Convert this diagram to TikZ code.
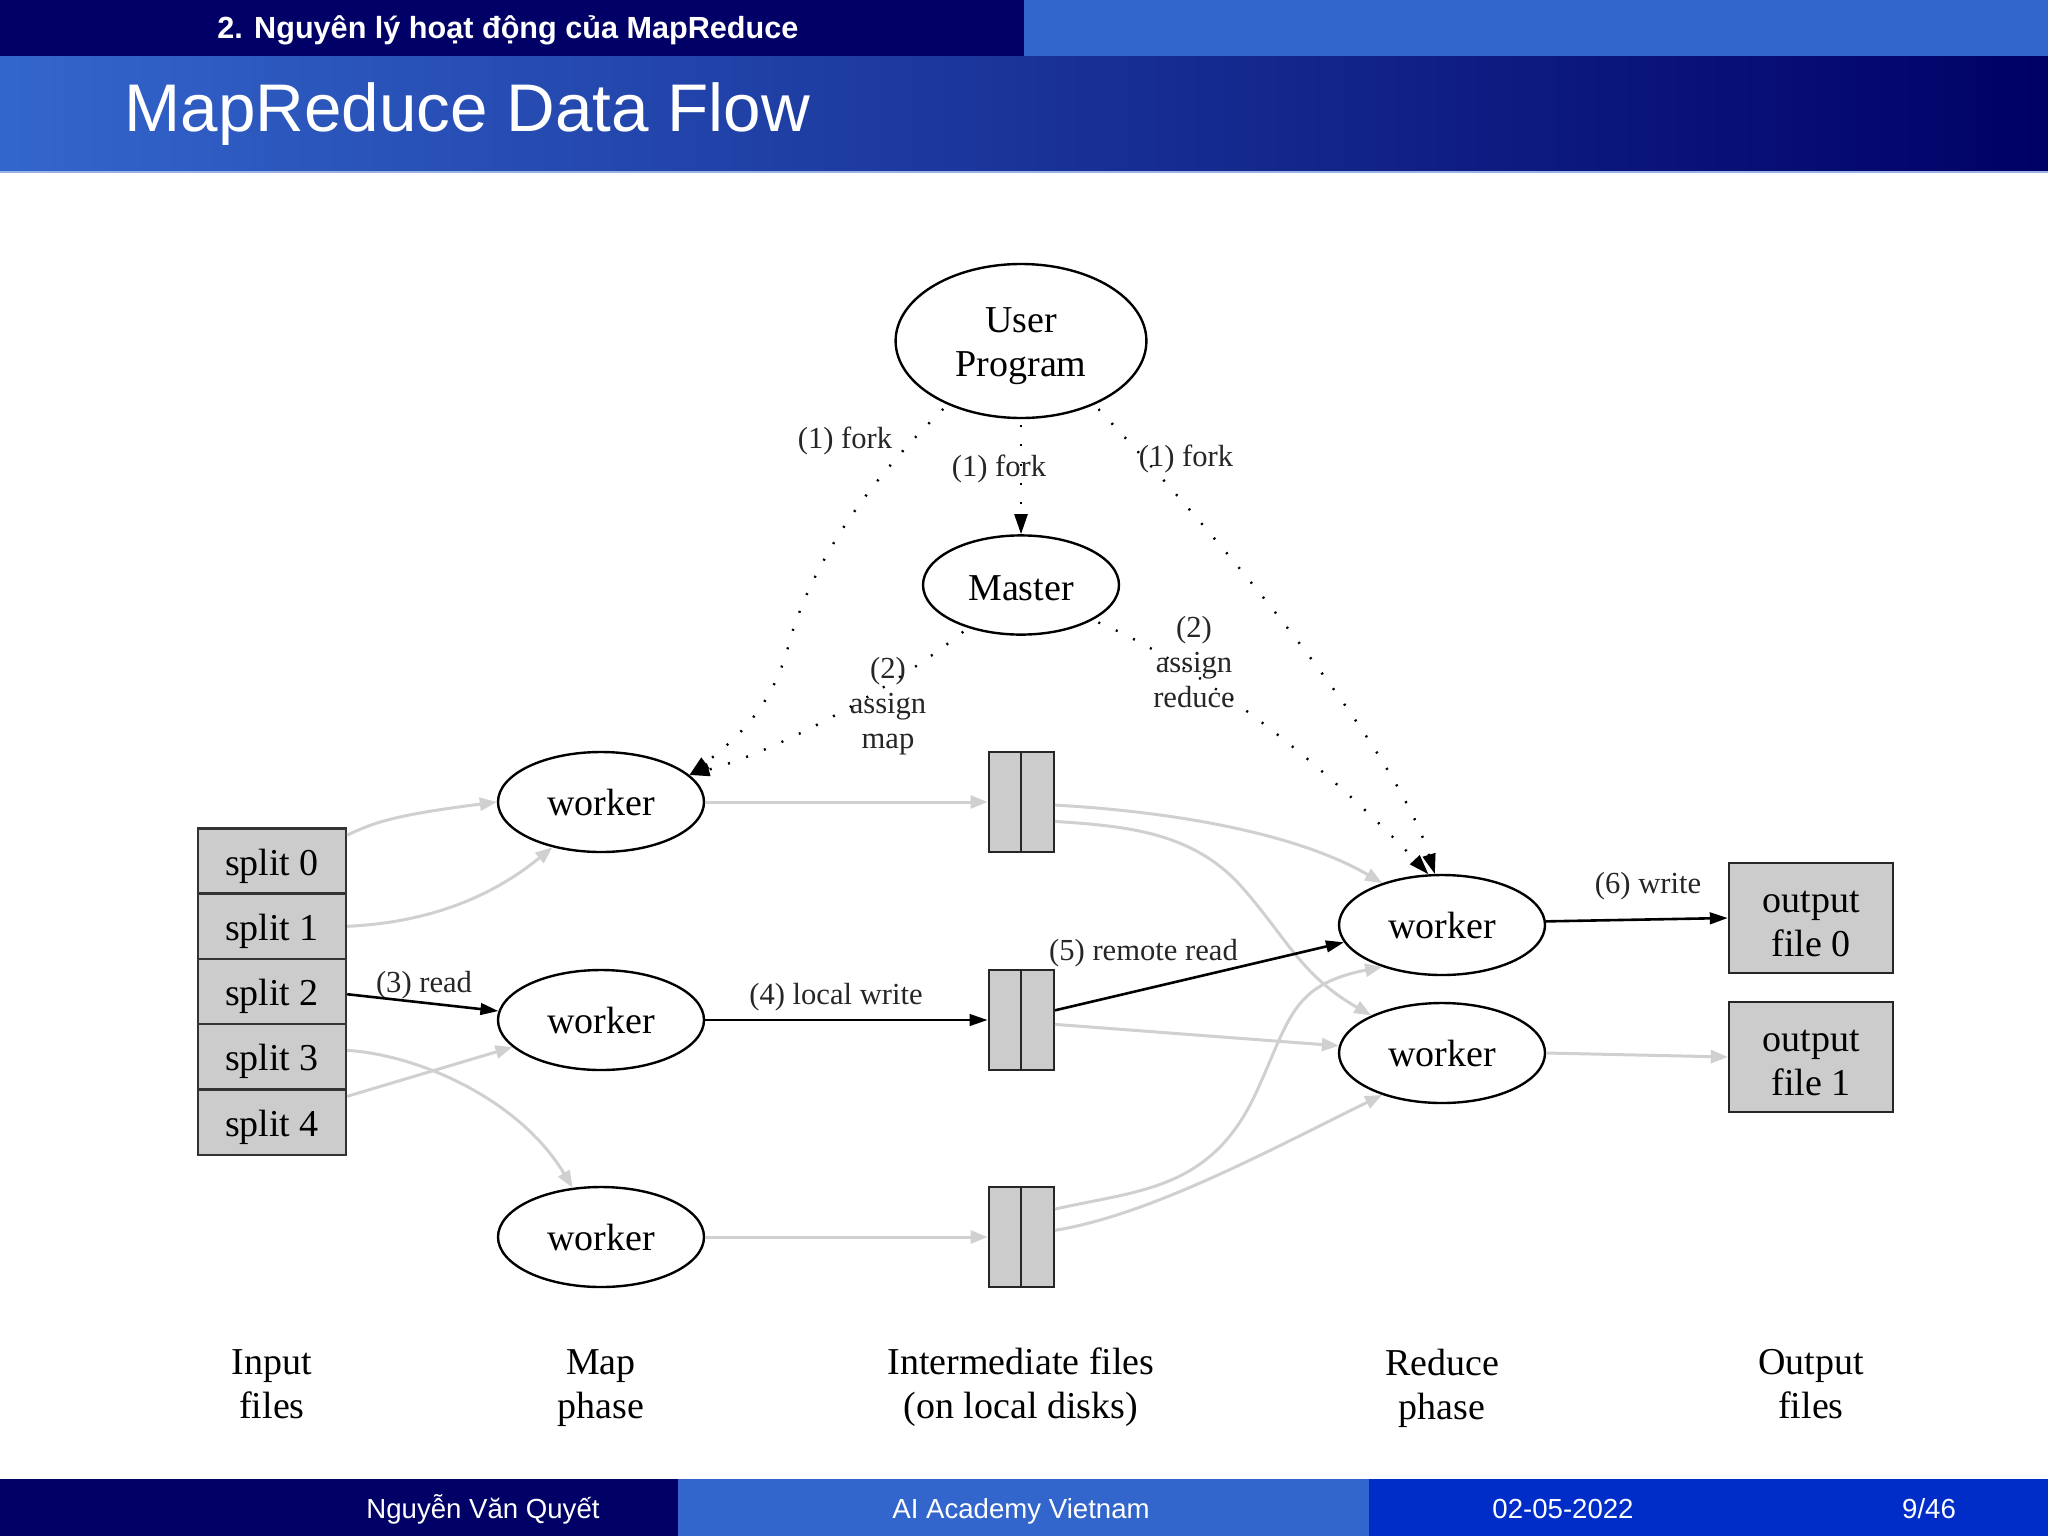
\documentclass[tikz,border=0pt]{standalone}
\usepackage{fontspec}
\setmainfont{Liberation Serif}
\setsansfont{Liberation Sans}
\usetikzlibrary{positioning}
\usetikzlibrary{shapes.geometric}
\usetikzlibrary{arrows.meta}
\definecolor{navyband}{HTML}{000066}
\definecolor{midband}{HTML}{003399}
\definecolor{lightband}{HTML}{3366CC}
\definecolor{dateband}{HTML}{002DC8}
\definecolor{boxgray}{HTML}{CCCCCC}
\definecolor{flowgray}{HTML}{D0D0D0}
\newcommand{\topstrut}[1]{\rule{0pt}{#1}}

\begin{document}
\begin{tikzpicture}
[
x=0.5pt, y=-0.5pt, on grid,
font=\fontsize{19}{22}\selectfont,
workernode/.style={ellipse, draw=black, line width=1.2pt, minimum width=103pt, minimum height=50pt, inner sep=0pt},
splitnode/.style={rectangle, draw=black!80, fill=boxgray, line width=1.2pt, minimum width=74pt, minimum height=32.65pt, inner sep=0pt, text height=18pt, text depth=4pt},
halfnode/.style={rectangle, draw=black!85, fill=boxgray, line width=1.2pt, minimum width=16.25pt, minimum height=50pt, inner sep=0pt},
filenode/.style={rectangle, draw=black!85, fill=boxgray, line width=1.2pt, minimum width=82pt, minimum height=55pt, inner sep=0pt, align=center},
captionnode/.style={align=center},
edgelabel/.style={font=\fontsize{15.3}{17.6}\selectfont, align=center, text=black!85},
barlabel/.style={font=\sffamily\fontsize{13.8}{16}\selectfont, text=white},
blackline/.style={draw=black, line width=1.3pt, -{Stealth[inset=0pt, length=9pt, width=5.8pt]}},
grayline/.style={draw=flowgray, line width=1.5pt, -{Stealth[inset=0pt, length=8.5pt, width=6.5pt]}},
dotline/.style={draw=black, line width=1.2pt, dash pattern=on 1pt off 8.6pt, shorten <=3pt, -{Stealth[inset=0pt, length=10pt, width=6.5pt]}},
]
    \useasboundingbox (0,0) rectangle (2048,1536);

    %Bars
    \fill[navyband] (0,0) rectangle (1024,57);
    \fill[lightband] (1024,0) rectangle (2048,57);
    \shade[left color=lightband, middle color=midband, right color=navyband] (0,57) rectangle (2048,171);
    \fill[lightband!50] (0,171) rectangle (2048,173);
    \fill[navyband] (0,1479) rectangle (678,1536);
    \fill[lightband] (678,1479) rectangle (1369,1536);
    \fill[dateband] (1369,1479) rectangle (2048,1536);

    \node[anchor=west, inner sep=0pt, text=white, font=\sffamily\bfseries\fontsize{15.3}{18}\selectfont] (section) at (217,30) {2. Nguyên lý hoạt động của MapReduce};
    \node[anchor=west, inner sep=0pt, text=white, font=\sffamily\fontsize{33.7}{38}\selectfont] (slidetitle) at (124,114.5) {MapReduce Data Flow};
    \node[barlabel] (authorname) at (483,1509) {Nguyễn Văn Quyết};
    \node[barlabel] (academy) at (1021,1511.5) {AI Academy Vietnam};
    \node[barlabel] (slidedate) at (1563,1509) {02-05-2022};
    \node[barlabel] (pagenum) at (1929,1509) {9/46};

    %Nodes
    \node[workernode, minimum width=125.4pt, minimum height=77pt, align=center] (user) at (1021,341) {\topstrut{18pt}User\\Program};
    \node[workernode, minimum width=98pt, minimum height=49.6pt, text height=15.2pt] (master)  [below=122pt of user]              {Master};
    \node[workernode]    (worker0)   [below left=230.5pt and 210pt of user]     {worker};
    \node[workernode]    (worker1)   [below=109pt of worker0]                   {worker};
    \node[workernode]    (worker2)   [below=108.5pt of worker1]                 {worker};
    \node[workernode]    (rworker0)  [below right=292pt and 210.5pt of user]    {worker};
    \node[workernode]    (rworker1)  [below=64pt of rworker0]                   {worker};

    \node[splitnode]     (split0)    [below left=29.5pt and 164.5pt of worker0] {split 0};
    \node[splitnode]     (split1)    [below=32.65pt of split0]                  {split 1};
    \node[splitnode]     (split2)    [below=32.65pt of split1]                  {split 2};
    \node[splitnode]     (split3)    [below=32.65pt of split2]                  {split 3};
    \node[splitnode]     (split4)    [below=32.65pt of split3]                  {split 4};

    \node[halfnode]      (imf0a)     [right=202pt of worker0]                   {};
    \node[halfnode]      (imf0b)     [right=16.25pt of imf0a]                   {};
    \node[halfnode]      (imf1a)     [right=202pt of worker1]                   {};
    \node[halfnode]      (imf1b)     [right=16.25pt of imf1a]                   {};
    \node[halfnode]      (imf2a)     [right=202pt of worker2]                   {};
    \node[halfnode]      (imf2b)     [right=16.25pt of imf2a]                   {};

    \node[filenode]      (output0)   [above right=3.5pt and 184.5pt of rworker0] {\topstrut{17pt}output\\file 0};
    \node[filenode]      (output1)   [below=69.5pt of output0]                  {\topstrut{17pt}output\\file 1};

    \node[captionnode]   (capinput)  [below=131pt of split4]                    {Input\\files};
    \node[captionnode]   (capmap)    [below=75.5pt of worker2]                  {Map\\phase};
    \node[captionnode]   (capinter)  [below=401pt of master]                    {Intermediate files\\(on local disks)};
    \node[captionnode]   (capreduce) [below=167.5pt of rworker1]                {Reduce\\phase};
    \node[captionnode]   (capoutput) [below=163.5pt of output1]                 {Output\\files};

    %Labels
    \node[edgelabel]     (forkleft)  [below left=49.8pt and 88pt of user]       {(1) fork};
    \node[edgelabel]     (forkmid)   [below left=63.8pt and 11pt of user]       {(1) fork};
    \node[edgelabel]     (forkright) [below right=58.8pt and 82.5pt of user]    {(1) fork};
    \node[edgelabel]     (assignmap) [below left=60.5pt and 66.5pt of master]   {(2)\\assign\\map};
    \node[edgelabel]     (assignred) [below right=38.5pt and 86.5pt of master]  {(2)\\assign\\reduce};
    \node[edgelabel]     (readlabel) [above left=17.2pt and 88.5pt of worker1]  {(3) read};
    \node[edgelabel]     (writelocal) [above right=11.2pt and 117.5pt of worker1] {(4) local write};
    \node[edgelabel]     (readremote) [above right=33.4pt and 53pt of imf1b]    {(5) remote read};
    \node[edgelabel]     (writeout)  [above right=19.2pt and 103pt of rworker0] {(6) write};

    %Lines
    \draw[dotline] (user) -- (master);
    \draw[dotline] (user.221) .. controls (865,485) and (815,560) .. (791,636) .. controls (778,690) and (755,725) .. (worker0.17);
    \draw[dotline] (user.319) .. controls (1250,570) and (1400,760) .. (rworker0.98);
    \draw[dotline] (master.219) .. controls (890,690) and (780,750) .. (worker0.17);
    \draw[dotline] (master.334) .. controls (1210,670) and (1340,780) .. (rworker0.105);

    \draw[grayline] (split0.19) .. controls (375,822) and (395,815) .. (worker0.west);
    \draw[grayline] (split1.east) .. controls (440,922) and (500,890) .. (worker0.223);
    \draw[blackline] (split2.358) -- (worker1.175);
    \draw[grayline] (split3.5) .. controls (420,1055) and (520,1100) .. (worker2.120);
    \draw[grayline] (split4.19) -- (worker1.197);

    \draw[grayline] (worker0) -- (imf0a);
    \draw[blackline] (worker1) -- (imf1a);
    \draw[grayline] (worker2) -- (imf2a);

    \draw[grayline] (imf0b.350) .. controls (1180,812) and (1300,835) .. (rworker0.145);
    \draw[grayline] (imf0b.312) .. controls (1120,826) and (1190,830) .. (1240,885) .. controls (1285,935) and (1300,975) .. (rworker1.152);
    \draw[blackline] (imf1b.29) -- (rworker0.190);
    \draw[grayline] (imf1b.346) -- (rworker1.176);
    \draw[grayline] (imf2b.58) .. controls (1140,1190) and (1210,1190) .. (1255,1095) .. controls (1290,1020) and (1290,985) .. (rworker0.215);
    \draw[grayline] (imf2b.21) .. controls (1150,1215) and (1270,1150) .. (rworker1.215);

    \draw[blackline] (rworker0.2) -- (output0.west);
    \draw[grayline] (rworker1.east) -- (output1.west);

\end{tikzpicture}
\end{document}
